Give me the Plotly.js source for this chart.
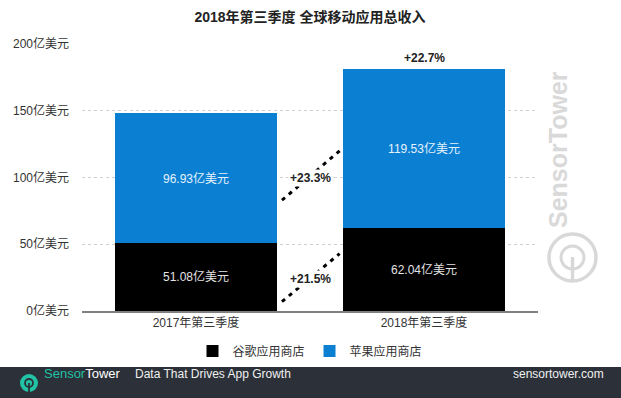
<!DOCTYPE html>
<html>
<head>
<meta charset="utf-8">
<script src="https://cdn.plot.ly/plotly-3.0.1.min.js"></script>
<style>
html,body{margin:0;padding:0;background:#fff;}
#chart{width:621px;height:398px;}
</style>
</head>
<body>
<div id="chart"></div>
<script>
// ---- data ----
const categories = ["2017年第三季度", "2018年第三季度"];
const googleRevenue = [51.08, 62.04];   // 谷歌应用商店 (亿美元)
const appleRevenue = [96.93, 119.53];   // 苹果应用商店 (亿美元)
const seriesNames = ["谷歌应用商店", "苹果应用商店"];
const yTickVals = [0, 50, 100, 150, 200];
const yTickText = ["0亿美元", "50亿美元", "100亿美元", "150亿美元", "200亿美元"];
const titleText = "2018年第三季度 全球移动应用总收入";

// ---- derived ----
const totals = googleRevenue.map((g, i) => g + appleRevenue[i]);
function pct(a, b) { return "+" + ((b / a - 1) * 100).toFixed(1) + "%"; }
const googleGrowth = pct(googleRevenue[0], googleRevenue[1]);
const appleGrowth = pct(appleRevenue[0], appleRevenue[1]);
const totalGrowth = pct(totals[0], totals[1]);

const FONT = "Liberation Sans, Arial, 'Noto Sans CJK SC', sans-serif";
const BLUE = "#0b80d3";

// pixel helpers (plot area: x 82..538, y 44..311)
const L = 82, R = 538, T = 44, B = 311;
const px = x => (x - L) / (R - L);
const py = y => (B - y) / (B - T);

const traces = [
  {
    type: "bar", x: categories, y: googleRevenue, name: seriesNames[0],
    marker: {color: "#000000"}, width: 0.71,
    text: googleRevenue.map(v => v.toFixed(2) + "亿美元"),
    textposition: "inside", insidetextanchor: "middle",
    textfont: {color: "#e4e4e4", size: 12, family: FONT},
    hoverinfo: "skip"
  },
  {
    type: "bar", x: categories, y: appleRevenue, name: seriesNames[1],
    marker: {color: BLUE}, width: 0.71,
    text: appleRevenue.map(v => v.toFixed(2) + "亿美元"),
    textposition: "inside", insidetextanchor: "middle",
    textfont: {color: "#e6f2fc", size: 12, family: FONT},
    hoverinfo: "skip"
  }
];

const dash = {color: "#000", width: 3, dash: "4px,5px"};
const shapes = [
  // connector dashed lines
  {type: "line", xref: "x", yref: "y", x0: 0.377, x1: 0.63, y0: 83, y1: 120, line: dash, layer: "below"},
  {type: "line", xref: "x", yref: "y", x0: 0.377, x1: 0.63, y0: 7, y1: 43, line: dash, layer: "below"},
  // footer bar
  {type: "rect", xref: "paper", yref: "paper", x0: px(0), x1: px(621), y0: py(367), y1: py(399),
   fillcolor: "#2c3038", line: {width: 0}, layer: "above"},
  // footer logo
  {type: "circle", xref: "paper", yref: "paper", x0: px(20), x1: px(38), y0: py(374), y1: py(392),
   fillcolor: "#21c2a6", line: {width: 0}},
  {type: "circle", xref: "paper", yref: "paper", x0: px(25), x1: px(33), y0: py(379), y1: py(387),
   fillcolor: "rgba(0,0,0,0)", line: {color: "#2c3038", width: 1.8}},
  {type: "line", xref: "paper", yref: "paper", x0: px(29), x1: px(29), y0: py(383), y1: py(392),
   line: {color: "#2c3038", width: 1.8}},
  // watermark logo
  {type: "circle", xref: "paper", yref: "paper", x0: px(549), x1: px(596), y0: py(234), y1: py(281),
   fillcolor: "rgba(0,0,0,0)", line: {color: "#d8d8d8", width: 3.5}},
  {type: "circle", xref: "paper", yref: "paper", x0: px(561), x1: px(584), y0: py(246), y1: py(269),
   fillcolor: "rgba(0,0,0,0)", line: {color: "#d8d8d8", width: 3}},
  {type: "line", xref: "paper", yref: "paper", x0: px(572.5), x1: px(572.5), y0: py(257), y1: py(281),
   line: {color: "#d8d8d8", width: 3.5}}
];

const annotations = [
  {x: categories[1], y: totals[1], xref: "x", yref: "y", text: "<b>" + totalGrowth + "</b>",
   showarrow: false, yanchor: "bottom", yshift: 2, font: {size: 12, color: "#222", family: FONT}},
  {x: 0.5, y: googleRevenue[0] + appleRevenue[0] / 2, xref: "x", yref: "y", text: "<b>" + appleGrowth + "</b>",
   showarrow: false, bgcolor: "#ffffff", font: {size: 12, color: "#222", family: FONT}},
  {x: 0.5, y: googleRevenue[0] / 2 - 1.5, xref: "x", yref: "y", text: "<b>" + googleGrowth + "</b>",
   showarrow: false, bgcolor: "#ffffff", font: {size: 12, color: "#222", family: FONT}},
  // watermark
  {x: px(574), y: py(150), xref: "paper", yref: "paper", text: "<b>SensorTower</b>", textangle: -90,
   showarrow: false, font: {size: 25, color: "#d9d9d9", family: FONT}},
  // footer texts
  {x: px(42), y: py(383), xref: "paper", yref: "paper", xanchor: "left",
   text: "<span style='color:#21c2a6'>Sensor</span>Tower", showarrow: false,
   font: {size: 13, color: "#ffffff", family: FONT}},
  {x: px(133), y: py(383), xref: "paper", yref: "paper", xanchor: "left",
   text: "Data That Drives App Growth", showarrow: false,
   font: {size: 12, color: "#f0f0f0", family: FONT}},
  {x: px(606), y: py(383), xref: "paper", yref: "paper", xanchor: "right",
   text: "sensortower.com", showarrow: false,
   font: {size: 12, color: "#f0f0f0", family: FONT}}
];

const layout = {
  width: 621, height: 398,
  margin: {l: L, r: 621 - R, t: T, b: 398 - B, pad: 0},
  paper_bgcolor: "#ffffff", plot_bgcolor: "#ffffff",
  font: {family: FONT, size: 12, color: "#333"},
  title: {text: "<b>" + titleText + "</b>", x: 0.5, xref: "paper", xanchor: "center",
          y: 1 - 17 / 398, yanchor: "middle", font: {size: 14, color: "#222", family: FONT}},
  barmode: "stack",
  showlegend: true,
  legend: {orientation: "h", x: 0.5, xanchor: "center", y: py(351), yanchor: "middle",
           traceorder: "normal", font: {size: 12, color: "#333"}, itemwidth: 30},
  xaxis: {type: "category", range: [-0.5, 1.5], showline: true, linecolor: "#808080", linewidth: 2,
          showgrid: false, ticks: "", tickfont: {size: 12, color: "#333"}, fixedrange: true},
  yaxis: {range: [0, 200], tickvals: yTickVals, ticktext: yTickText, showgrid: true,
          gridcolor: "#cfcfcf", griddash: "dot", gridwidth: 1, zeroline: false, showline: false,
          ticks: "", ticklabelstandoff: 12, tickfont: {size: 12, color: "#333"}, fixedrange: true},
  shapes: shapes,
  annotations: annotations,
  bargap: 0.29
};

Plotly.newPlot("chart", traces, layout, {displayModeBar: false, staticPlot: true});
</script>
</body>
</html>
